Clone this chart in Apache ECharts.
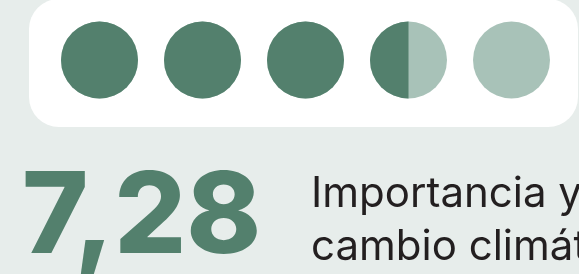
<!DOCTYPE html>
<html>
  <head>
    <meta charset="UTF-8" />
    <title>Importancia y cambio climático</title>
    <script src="https://cdn.jsdelivr.net/npm/echarts@6/dist/echarts.min.js"></script>
    <style>
      html, body { margin: 0; padding: 0; background: #e7edeb; }
      #main { width: 579px; height: 274px; }
    </style>
  </head>
  <body>
    <div id="main"></div>
    <script type="text/javascript">
      // puntuación y relleno de cada círculo (1 = lleno, 0.5 = medio, 0 = vacío)
      var score = 7.28;
      var dots = ["1", "2", "3", "4", "5"];
      var fills = [1, 1, 1, 0.5, 0];
      var labelLines = ["Importancia y", "cambio climático"];

      var dark = "#53806d";
      var light = "#a8c2b8";

      var chart = echarts.init(document.getElementById("main"));

      var option = {
        backgroundColor: "#e7edeb",
        animation: false,
        grid: { left: 48, right: 16, top: 21, bottom: 175 },
        xAxis: { type: "category", data: dots, show: false },
        yAxis: { type: "value", min: -1, max: 1, show: false },
        graphic: [
          {
            type: "rect",
            z: -10,
            shape: { x: 29, y: -1, width: 549, height: 128, r: 30 },
            style: { fill: "#ffffff" }
          },
          {
            type: "text",
            left: 22,
            top: 163,
            style: {
              text: score.toFixed(2).replace(".", ","),
              fill: dark,
              font: "800 113px Inter"
            }
          },
          {
            type: "text",
            left: 311,
            top: 168,
            style: {
              text: labelLines.join("\n"),
              fill: "#231f20",
              font: "400 42px Inter",
              lineHeight: 53
            }
          }
        ],
        series: [
          {
            type: "custom",
            data: fills.map(function (f, i) { return [i, 0, f]; }),
            renderItem: function (params, api) {
              var c = api.coord([api.value(0), 0]);
              var r = 38.5;
              var f = api.value(2);
              var kids = [
                { type: "circle", shape: { cx: c[0], cy: c[1], r: r }, style: { fill: light } }
              ];
              if (f >= 1) {
                kids.push({ type: "circle", shape: { cx: c[0], cy: c[1], r: r }, style: { fill: dark } });
              } else if (f > 0) {
                kids.push({
                  type: "sector",
                  shape: {
                    cx: c[0], cy: c[1], r: r, r0: 0,
                    startAngle: -Math.PI / 2,
                    endAngle: -Math.PI / 2 - 2 * Math.PI * f,
                    clockwise: false
                  },
                  style: { fill: dark }
                });
              }
              return { type: "group", children: kids };
            }
          }
        ]
      };

      chart.setOption(option);
    </script>
  </body>
</html>
